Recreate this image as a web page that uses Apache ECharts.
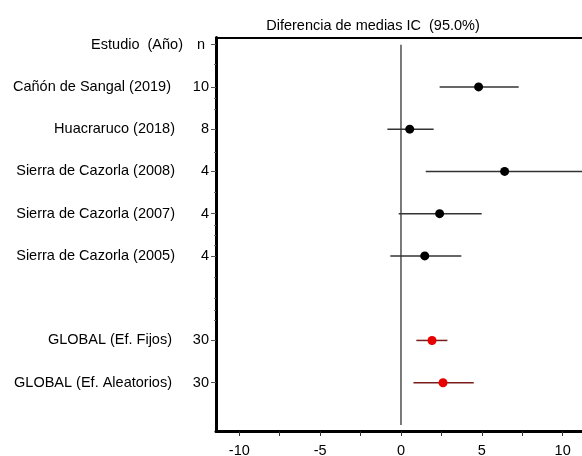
<!DOCTYPE html>
<html><head><meta charset="utf-8">
<script src="https://cdn.jsdelivr.net/npm/echarts@6/dist/echarts.min.js"></script>
<style>html,body{margin:0;padding:0;background:#fff}#c{width:582px;height:456px}</style>
</head><body><div id="c"></div>
<script>
// ---- data ----
const chartTitle = 'Diferencia de medias IC  (95.0%)';
const headerName = 'Estudio  (Año)';
const headerN = 'n';
const studies = ['Cañón de Sangal (2019)', 'Huacraruco (2018)', 'Sierra de Cazorla (2008)', 'Sierra de Cazorla (2007)', 'Sierra de Cazorla (2005)'];
const studyN = ['10', '8', '4', '4', '4'];
const studyMean = [4.8, 0.54, 6.41, 2.39, 1.47];
const studyLow = [2.39, -0.84, 1.53, -0.14, -0.66];
const studyHigh = [7.28, 2.02, 11.3, 4.99, 3.73];
const pooled = ['GLOBAL (Ef. Fijos)', 'GLOBAL (Ef. Aleatorios)'];
const pooledN = ['30', '30'];
const pooledMean = [1.92, 2.6];
const pooledLow = [0.95, 0.77];
const pooledHigh = [2.87, 4.5];
const xTicks = [-10, -5, 0, 5, 10];
const xMinorTicks = [-7.5, -2.5, 2.5, 7.5];
const refValue = 0;

// ---- layout of rows (row 0 = header, one blank row before pooled) ----
const studyRows = studies.map((_, i) => i + 1);
const pooledRows = pooled.map((_, i) => studies.length + 2 + i);
const lastRow = pooledRows[pooledRows.length - 1] + 1;
const nameByRow = {0: headerName}, nByRow = {0: headerN + ' '};
studies.forEach((s, i) => { nameByRow[studyRows[i]] = s; nByRow[studyRows[i]] = studyN[i]; });
pooled.forEach((s, i) => { nameByRow[pooledRows[i]] = s; nByRow[pooledRows[i]] = pooledN[i]; });
const labelRows = [0].concat(studyRows, pooledRows);
const yMinorTicks = [0.47, 1.27, 1.53, 2.54, 3.5, 4.27, 4.5, 4.75, 5.5, 6.0, 6.28, 6.52];
const padByRow = {0: 0, 1: 12, 2: 8, 3: 8, 4: 8, 5: 8, 7: 11, 8: 11};

const FONT = "'Liberation Sans', Arial, sans-serif";
const FS = 14.5;
const Y_MIN = -0.17, Y_MAX = 9.155;
const X_MIN = -11.44, X_MAX = 12.0;

function ciRender(color) {
  return function (params, api) {
    const y = api.value(3);
    const a = api.coord([api.value(0), y]);
    const b = api.coord([api.value(1), y]);
    return {type: 'line', shape: {x1: a[0], y1: a[1], x2: b[0], y2: b[1]},
      style: {stroke: color, lineWidth: 1.5}};
  };
}

const richName = {};
Object.keys(padByRow).forEach(r => {
  richName['r' + r] = {fontFamily: FONT, fontSize: FS, color: '#000', padding: [0, padByRow[r], 0, 0]};
});

const chart = echarts.init(document.getElementById('c'), null, {renderer: 'canvas'});
chart.setOption({
  animation: false,
  backgroundColor: '#fff',
  title: {text: chartTitle, left: 368, top: 13, textAlign: 'center',
    textStyle: {fontFamily: FONT, fontSize: FS, fontWeight: 'normal', color: '#000'}},
  grid: {left: 216, top: 37.5, width: (X_MAX - X_MIN) * 16.17, bottom: 24.5, containLabel: false, outerBoundsMode: 'none'},
  xAxis: [
    {type: 'value', position: 'bottom', min: X_MIN, max: X_MAX,
      axisLine: {show: true, onZero: false, lineStyle: {color: '#000', width: 3}},
      axisTick: {show: true, inside: false, customValues: xTicks.concat(xMinorTicks), length: 4.5, lineStyle: {color: '#333', width: 1}},
      axisLabel: {show: true, customValues: xTicks, margin: 12, fontFamily: FONT, fontSize: FS, color: '#000'},
      splitLine: {show: false}},
    {type: 'value', position: 'top', min: X_MIN, max: X_MAX,
      axisLine: {show: true, onZero: false, lineStyle: {color: '#000', width: 2}},
      axisTick: {show: false}, axisLabel: {show: false}, splitLine: {show: false}}
  ],
  yAxis: [
    {type: 'value', position: 'left', inverse: true, min: Y_MIN, max: Y_MAX,
      axisLine: {show: true, onZero: false, lineStyle: {color: '#000', width: 3}},
      axisTick: {show: true, inside: false, customValues: labelRows, length: 5, lineStyle: {color: '#555', width: 1}},
      axisLabel: {show: true, customValues: labelRows, margin: 7, fontFamily: FONT, fontSize: FS, color: '#000',
        formatter: v => nByRow[Math.round(v)] || ''},
      splitLine: {show: false}},
    {type: 'value', position: 'left', inverse: true, min: Y_MIN, max: Y_MAX, offset: 25,
      axisLine: {show: false, onZero: false}, axisTick: {show: false},
      axisLabel: {show: true, customValues: labelRows, margin: 8, fontFamily: FONT, fontSize: FS, color: '#000',
        formatter: v => { const r = Math.round(v); return '{r' + r + '|' + (nameByRow[r] || '') + '}'; },
        rich: richName},
      splitLine: {show: false}},
    {type: 'value', position: 'left', inverse: true, min: Y_MIN, max: Y_MAX,
      axisLine: {show: false, onZero: false},
      axisTick: {show: true, inside: false, customValues: yMinorTicks, length: 2, lineStyle: {color: '#666', width: 1}},
      axisLabel: {show: false}, splitLine: {show: false}}
  ],
  series: [
    {type: 'line', xAxisIndex: 0, yAxisIndex: 0, data: [[refValue, 0], [refValue, lastRow]],
      symbol: 'none', lineStyle: {color: '#333', width: 1.3}, z: 1, silent: true},
    {type: 'custom', xAxisIndex: 0, yAxisIndex: 0, renderItem: ciRender('#333'),
      encode: {x: [0, 1], y: 3},
      data: studies.map((_, i) => [studyLow[i], studyHigh[i], studyMean[i], studyRows[i]]), z: 2},
    {type: 'custom', xAxisIndex: 0, yAxisIndex: 0, renderItem: ciRender('#7a1c1c'),
      encode: {x: [0, 1], y: 3},
      data: pooled.map((_, i) => [pooledLow[i], pooledHigh[i], pooledMean[i], pooledRows[i]]), z: 2},
    {type: 'scatter', xAxisIndex: 0, yAxisIndex: 0, symbol: 'circle', symbolSize: 9,
      itemStyle: {color: '#000', opacity: 1},
      data: studies.map((_, i) => [studyMean[i], studyRows[i]]), z: 3},
    {type: 'scatter', xAxisIndex: 0, yAxisIndex: 0, symbol: 'circle', symbolSize: 9,
      itemStyle: {color: '#e80000', opacity: 1},
      data: pooled.map((_, i) => [pooledMean[i], pooledRows[i]]), z: 3}
  ]
});
</script></body></html>
